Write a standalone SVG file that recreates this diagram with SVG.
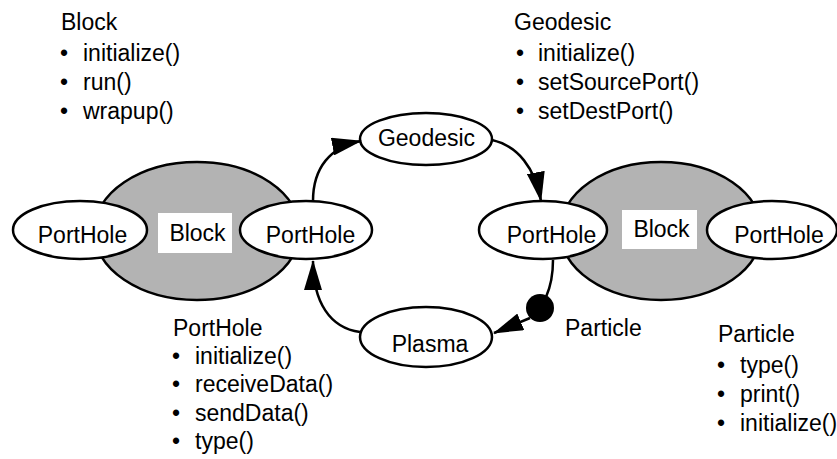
<svg xmlns="http://www.w3.org/2000/svg" width="837" height="459" viewBox="0 0 837 459">
<style>
text{font-family:"Liberation Sans",Arial,sans-serif;font-size:23px;fill:#000}
.c{text-anchor:middle}
.blk{fill:#b3b3b3;stroke:#000;stroke-width:2.5}
.ph{fill:#fff;stroke:#000;stroke-width:2.5}
.lbl{fill:#fff}
.conn{fill:none;stroke:#000;stroke-width:2.5}
</style>
<defs>
<marker id="arr" viewBox="0 0 30 18" refX="29" refY="9" markerWidth="30" markerHeight="18" markerUnits="userSpaceOnUse" orient="auto">
<path d="M0,0 L30,9 L0,18 z" fill="#000"/>
</marker>
</defs>
<rect width="837" height="459" fill="#fff"/>

<g id="note-block">
<text x="61" y="30">Block</text>
<text x="60" y="61">•</text><text x="83" y="61">initialize()</text>
<text x="60" y="90">•</text><text x="83" y="90">run()</text>
<text x="60" y="119">•</text><text x="83" y="119">wrapup()</text>
</g>
<g id="note-geodesic">
<text x="514" y="30">Geodesic</text>
<text x="516" y="61">•</text><text x="538" y="61">initialize()</text>
<text x="516" y="90">•</text><text x="538" y="90">setSourcePort()</text>
<text x="516" y="119">•</text><text x="538" y="119">setDestPort()</text>
</g>
<g id="note-porthole">
<text x="173" y="336">PortHole</text>
<text x="172" y="364">•</text><text x="195" y="364">initialize()</text>
<text x="172" y="392">•</text><text x="195" y="392">receiveData()</text>
<text x="172" y="421">•</text><text x="195" y="421">sendData()</text>
<text x="172" y="449">•</text><text x="195" y="449">type()</text>
</g>
<g id="note-particle">
<text x="718" y="342">Particle</text>
<text x="717" y="373">•</text><text x="740" y="373">type()</text>
<text x="717" y="402">•</text><text x="740" y="402">print()</text>
<text x="717" y="431">•</text><text x="740" y="431">initialize()</text>
</g>

<g id="block1">
<ellipse class="blk" cx="197" cy="231" rx="103" ry="69"/>
<rect class="lbl" x="158" y="213" width="74" height="40"/>
<text class="c" x="197.5" y="241">Block</text>
</g>
<g id="block2">
<ellipse class="blk" cx="661" cy="231" rx="101" ry="69"/>
<rect class="lbl" x="622" y="210" width="75" height="39"/>
<text class="c" x="661.5" y="237">Block</text>
</g>
<g id="porthole1">
<ellipse class="ph" cx="80" cy="230" rx="67" ry="29"/>
<text class="c" x="82.5" y="243">PortHole</text>
</g>
<g id="porthole2">
<ellipse class="ph" cx="306" cy="230" rx="66" ry="29"/>
<text class="c" x="310.5" y="243">PortHole</text>
</g>
<g id="porthole3">
<ellipse class="ph" cx="543" cy="230" rx="64" ry="29"/>
<text class="c" x="551.5" y="243">PortHole</text>
</g>
<g id="porthole4">
<ellipse class="ph" cx="772" cy="230" rx="65" ry="29"/>
<text class="c" x="779" y="243">PortHole</text>
</g>
<g id="geodesic">
<ellipse class="ph" cx="426" cy="139" rx="66" ry="26"/>
<text class="c" x="426.5" y="146">Geodesic</text>
</g>
<g id="plasma">
<ellipse class="ph" cx="426" cy="337" rx="66" ry="30"/>
<text class="c" x="430" y="352">Plasma</text>
</g>

<g id="connectors">
<path class="conn" d="M313,201 C313,168 330,147 361,141" marker-end="url(#arr)"/>
<path class="conn" d="M492,140 C518,146 535,168 541,201" marker-end="url(#arr)"/>
<path class="conn" d="M360,332 C330,328 313,302 313,261" marker-end="url(#arr)"/>
<path class="conn" d="M553,260 C553,276 550,288 546,297"/>
<path class="conn" d="M530,318 L494,333" marker-end="url(#arr)"/>
<circle cx="540" cy="308" r="14" fill="#000"/>
<text x="565" y="336">Particle</text>
</g>
</svg>
